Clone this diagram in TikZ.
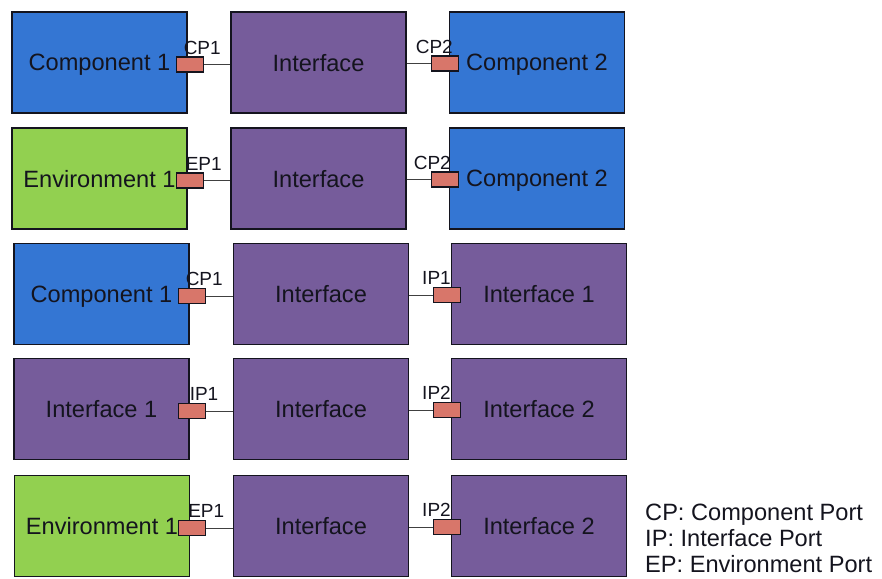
\documentclass[tikz,border=0pt]{standalone}
\usepackage{fontspec}
\setmainfont{Liberation Sans}
\definecolor{compblue}{RGB}{52,118,211}
\definecolor{ifpurple}{RGB}{118,92,155}
\definecolor{envgreen}{RGB}{146,208,80}
\definecolor{portred}{RGB}{216,118,106}
\definecolor{edge}{RGB}{20,20,30}
\tikzset{
  blk/.style={draw=edge, line width=1.3pt, minimum width=175pt, minimum height=101pt, inner sep=0pt, text=edge,
    text depth=0pt, font=\fontsize{23.6}{28}\selectfont, anchor=center},
  comp/.style={blk, fill=compblue},
  intf/.style={blk, fill=ifpurple},
  env/.style={blk, fill=envgreen},
  port/.style={draw=edge, line width=1.2pt, fill=portred, minimum width=27pt, minimum height=15pt, inner sep=0pt},
  plabel/.style={font=\fontsize{19}{22}\selectfont, text=edge, inner sep=0pt},
  link/.style={draw=black!75, line width=0.8pt},
  legend/.style={font=\fontsize{23.6}{28}\selectfont, text=edge, inner sep=0pt, anchor=base west}
}
\begin{document}
\begin{tikzpicture}[x=1pt,y=-1pt]
\useasboundingbox (0,0) rectangle (882,578);
% Row 1
\node[comp] (l1) at (99.5,62.5) {Component 1};
\node[intf] (m1) at (318.5,62.5) {Interface};
\node[comp] (r1) at (537,62.5) {Component 2};
% Row 2
\node[env]  (l2) at (99.5,178.5) {Environment 1};
\node[intf] (m2) at (318.5,178.5) {Interface};
\node[comp] (r2) at (537,178.5) {Component 2};
% Row 3
\node[comp] (l3) at (101.5,294) {Component 1};
\node[intf] (m3) at (321,294) {Interface};
\node[intf] (r3) at (539,294) {Interface 1};
% Row 4
\node[intf] (l4) at (101.5,409) {Interface 1};
\node[intf] (m4) at (321,409) {Interface};
\node[intf] (r4) at (539,409) {Interface 2};
% Row 5
\node[env]  (l5) at (102,526) {Environment 1};
\node[intf] (m5) at (321,526) {Interface};
\node[intf] (r5) at (539,526) {Interface 2};
% Ports
\foreach \i in {1,...,5}{
  \node[port] (lp\i) at ([xshift=2pt,yshift=-2pt]l\i.east) {};
  \node[port] (rp\i) at ([xshift=-4pt,yshift=-1pt]r\i.west) {};
  \draw[link] (lp\i.east) -- (lp\i.east -| m\i.west);
  \draw[link] (m\i.east |- rp\i.west) -- (rp\i.west);
}
% Port labels
\node[plabel, anchor=south west] (lpl1) at ([xshift=8pt,yshift=2pt]lp1.north west) {CP1};
\node[plabel, anchor=south east] (rpl1) at ([xshift=-6pt,yshift=2pt]rp1.north east) {CP2};
\node[plabel, anchor=south west] (lpl2) at ([xshift=10pt,yshift=2pt]lp2.north west) {EP1};
\node[plabel, anchor=south east] (rpl2) at ([xshift=-8pt,yshift=2pt]rp2.north east) {CP2};
\node[plabel, anchor=south west] (lpl3) at ([xshift=8pt,yshift=2pt]lp3.north west) {CP1};
\node[plabel, anchor=south east] (rpl3) at ([xshift=-10pt,yshift=2pt]rp3.north east) {IP1};
\node[plabel, anchor=south west] (lpl4) at ([xshift=12pt,yshift=2pt]lp4.north west) {IP1};
\node[plabel, anchor=south east] (rpl4) at ([xshift=-10pt,yshift=2pt]rp4.north east) {IP2};
\node[plabel, anchor=south west] (lpl5) at ([xshift=10pt,yshift=2pt]lp5.north west) {EP1};
\node[plabel, anchor=south east] (rpl5) at ([xshift=-10pt,yshift=2pt]rp5.north east) {IP2};
% Legend
\node[legend] (lg1) at (645,520) {CP: Component Port};
\node[legend] (lg2) at (645,546) {IP: Interface Port};
\node[legend] (lg3) at (645,572) {EP: Environment Port};
\end{tikzpicture}
\end{document}
